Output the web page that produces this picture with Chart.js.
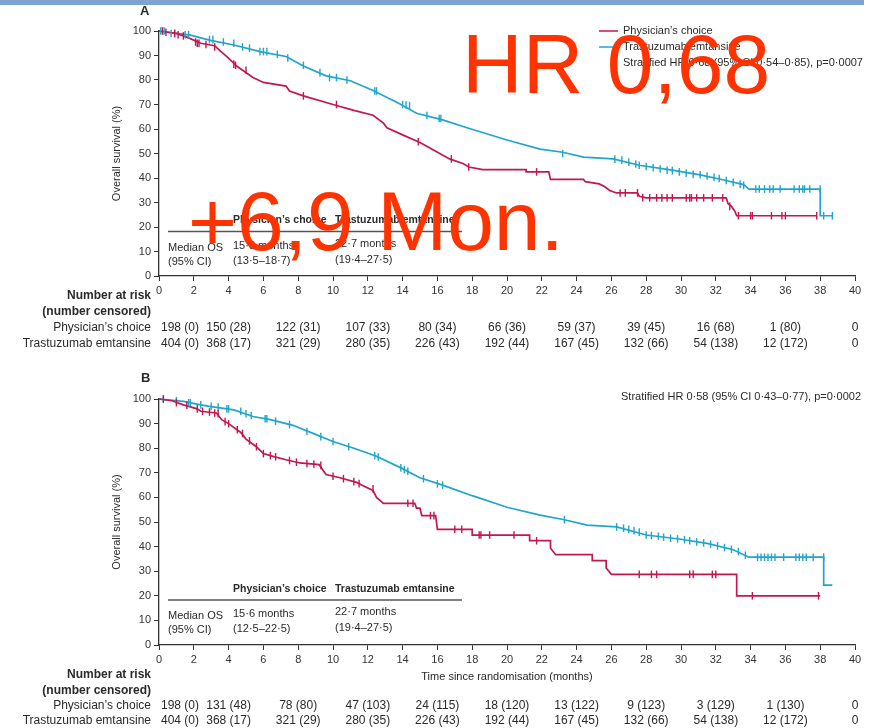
<!DOCTYPE html>
<html>
<head>
<meta charset="utf-8">
<script src="https://cdn.jsdelivr.net/npm/chart.js@4.4.1/dist/chart.umd.min.js"></script>
<style>
  body { margin: 0; background: #fff; width: 872px; height: 728px; overflow: hidden; position: relative; }
  #bar { position: absolute; left: 0; top: 0; width: 864px; height: 5px; background: #80a3cd; z-index: 2; }
  #cA { position: absolute; left: 0; top: 0; }
  #cB { position: absolute; left: 0; top: 365px; }
</style>
</head>
<body>
<div id="bar"></div>
<canvas id="cA" width="872" height="362"></canvas>
<canvas id="cB" width="872" height="363"></canvas>
<script>
// --- data (months, % surviving) ---
const redA = [[0,100],[0.5,99.5],[1.0,99],[1.6,97.5],[2.4,95],[3.2,94],[3.5,92],[3.9,89.5],[4.5,85.5],[5.4,81],[6.0,79],[7.3,77.5],[7.5,75.5],[8.3,73.5],[10.0,70],[11.2,67.6],[12.3,65.6],[12.9,62.4],[13.1,60.5],[14.0,57.6],[15.0,54.5],[15.8,51.3],[16.7,47.8],[17.5,45.8],[17.8,44.5],[18.6,43.4],[21.1,43.4],[21.1,42.5],[22.4,42.5],[22.5,39.4],[24.4,39.4],[24.5,38.5],[25.3,37.6],[25.6,36.5],[25.9,34.9],[26.3,33.9],[27.5,33.9],[27.6,32.5],[28.0,31.9],[32.6,31.9],[32.7,29.6],[32.9,28.4],[33.1,26.4],[33.2,24.6],[37.8,24.6]];
const blueA = [[0,100],[1.0,99],[1.8,98.3],[2.9,96.3],[4.3,94.3],[5.8,91.6],[7.3,89.6],[8.3,85.7],[9.6,81.7],[11.0,79.7],[12.3,75.7],[13.8,70.4],[14.8,66.4],[16.3,63.7],[17.7,60.5],[20.0,55.5],[21.9,51.8],[23.2,50.5],[24.4,48.5],[26.1,47.8],[27.6,45.2],[29.5,43.2],[31.1,41.3],[32.4,39.3],[33.6,37.3],[33.9,35.5],[38.0,35.5],[38.0,24.6],[38.7,24.6]];
const censRedA = [[0.2,100],[0.4,99.5],[0.9,99],[1.1,98.5],[1.4,98],[2.1,95.5],[2.2,95],[2.3,95],[2.7,94.5],[3.2,93.5],[4.3,86.5],[4.4,86],[5.0,84],[8.3,73.5],[10.2,70],[14.9,54.8],[16.8,47.8],[17.8,44.5],[21.7,42.5],[26.5,33.9],[26.8,33.9],[27.5,33.9],[27.8,32],[28.2,31.9],[28.6,31.9],[28.9,31.9],[29.2,31.9],[29.5,31.9],[30.3,31.9],[30.5,31.9],[30.6,31.9],[30.9,31.9],[31.3,31.9],[31.8,31.9],[32.4,31.9],[32.8,28.4],[33.3,24.6],[34.0,24.6],[34.1,24.6],[35.2,24.6],[35.8,24.6],[36.0,24.6],[37.8,24.6]];
const censBlueA = [[0.1,100],[0.3,100],[0.7,99],[0.9,99],[1.5,98.5],[1.7,98.5],[2.9,96.5],[3.1,96.5],[3.7,95.5],[4.3,95],[4.8,93.5],[5.2,93],[5.8,91.6],[6.0,91.6],[6.2,91.6],[6.8,90.5],[7.4,89],[8.3,86],[9.25,83],[9.8,81],[10.2,81],[10.8,80],[12.4,75.5],[12.5,75.5],[14.0,70],[14.2,69.8],[14.4,69.5],[15.4,65.5],[16.1,64.3],[16.2,64.3],[23.2,50],[26.2,47.7],[26.6,47.3],[27.0,46.5],[27.4,45.7],[27.6,45.2],[28.0,44.7],[28.4,44.2],[28.8,43.7],[29.2,43.2],[29.5,43],[29.9,42.5],[30.3,42],[30.7,41.5],[31.1,41.3],[31.5,40.8],[31.9,40.3],[32.2,39.8],[32.6,39],[33.0,38.2],[33.4,37.5],[33.6,37],[34.3,35.5],[34.5,35.5],[34.8,35.5],[35.1,35.5],[35.3,35.5],[35.7,35.5],[36.5,35.5],[36.8,35.5],[37.0,35.5],[37.1,35.5],[37.4,35.5],[38.0,35.5],[38.2,24.6],[38.7,24.6]];

const redB = [[0,100],[0.75,99.3],[1.4,97.6],[2.2,96],[2.4,95],[3.3,94.3],[3.6,91.6],[4.0,90],[4.7,86.4],[5.0,83.7],[5.6,80.6],[6.0,77.8],[6.6,76.6],[7.3,75.3],[8.1,74],[9.2,73.3],[9.6,69.3],[10.4,68],[11.4,66],[11.7,64.8],[12.3,62.8],[12.5,60],[12.9,57.6],[14.7,57.6],[14.8,55.6],[15.0,55.6],[15.1,52.6],[15.9,52.6],[16.0,47],[18.0,47],[18.0,44.7],[21.3,44.7],[21.3,42.4],[22.5,42.4],[22.5,39.3],[22.8,36.7],[24.9,36.7],[24.9,34.3],[25.7,34.3],[25.7,31.3],[26.0,28.7],[33.2,28.7],[33.2,20],[38.0,20]];
const blueB = [[0,100],[1.4,99],[2.4,97.6],[2.9,97],[4.3,95.6],[5.4,92.9],[6.4,91.6],[7.7,89.3],[9.1,85.3],[10.0,82.7],[11.2,80],[12.5,76.7],[13.9,72],[15.0,68],[16.3,65],[18.0,60.7],[20.0,56],[21.9,52.8],[23.3,50.9],[24.6,48.7],[26.3,48],[28.0,44.7],[29.9,43.1],[31.5,41.3],[33.0,38.7],[33.9,35.7],[38.2,35.7],[38.2,24.3],[38.7,24.3]];
const censRedB = [[0.25,100],[1.0,98.5],[1.6,97.5],[2.2,96],[2.5,95],[2.9,94.7],[3.2,94.3],[3.4,94],[3.8,90.8],[4.0,90],[4.5,87.5],[4.8,86],[5.2,83],[5.6,80.6],[6.0,77.8],[6.4,77],[6.7,76.5],[7.5,75],[7.9,74.3],[8.5,73.8],[8.9,73.5],[9.3,73],[10.0,68.6],[10.6,67.6],[11.2,66.4],[11.5,65.6],[12.3,63.5],[14.3,57.6],[14.6,57.6],[15.6,52.6],[15.8,52.6],[17.0,47],[17.4,47],[18.4,44.7],[18.5,44.7],[19.0,44.7],[20.4,44.7],[21.7,42.4],[27.6,28.7],[28.3,28.7],[28.6,28.7],[30.5,28.7],[30.7,28.7],[31.8,28.7],[32.0,28.7],[34.1,20],[37.9,20]];
const censBlueB = [[0.25,100],[1.0,99.3],[1.7,98.5],[1.8,98.5],[2.4,97.6],[3.0,97],[3.4,96.7],[3.9,96],[4.0,96],[4.7,95],[5.0,94],[5.3,93.3],[6.1,92],[6.2,92],[6.7,91],[7.5,89.6],[8.5,86.8],[9.3,84.7],[10.0,82.7],[10.9,80.6],[12.4,77],[12.6,76.4],[13.9,72],[14.1,71.3],[14.3,70.6],[15.2,67.6],[16.0,65.5],[16.3,65],[23.3,50.9],[26.3,48],[26.7,47.5],[27.0,47],[27.3,46.5],[27.6,45.9],[28.0,44.7],[28.3,44.5],[28.7,44.2],[29.0,43.8],[29.4,43.4],[29.8,43.1],[30.2,42.8],[30.5,42.4],[30.9,41.9],[31.3,41.5],[31.7,41],[32.1,40.3],[32.5,39.6],[32.9,38.9],[33.3,38],[33.7,36.5],[34.4,35.7],[34.6,35.7],[34.8,35.7],[35.0,35.7],[35.2,35.7],[35.4,35.7],[35.9,35.7],[36.6,35.7],[36.8,35.7],[37.0,35.7],[37.2,35.7],[37.6,35.7],[38.2,35.7]];

// number at risk (number censored)
const riskTimes = [0, 4, 8, 12, 16, 20, 24, 28, 32, 36, 40];
const riskA_pc = ["198 (0)", "150 (28)", "122 (31)", "107 (33)", "80 (34)", "66 (36)", "59 (37)", "39 (45)", "16 (68)", "1 (80)", "0"];
const riskA_tdm1 = ["404 (0)", "368 (17)", "321 (29)", "280 (35)", "226 (43)", "192 (44)", "167 (45)", "132 (66)", "54 (138)", "12 (172)", "0"];
const riskB_pc = ["198 (0)", "131 (48)", "78 (80)", "47 (103)", "24 (115)", "18 (120)", "13 (122)", "9 (123)", "3 (129)", "1 (130)", "0"];
const riskB_tdm1 = ["404 (0)", "368 (17)", "321 (29)", "280 (35)", "226 (43)", "192 (44)", "167 (45)", "132 (66)", "54 (138)", "12 (172)", "0"];

const medianA = ["15·8 months", "(13·5–18·7)", "22·7 months", "(19·4–27·5)"];
const medianB = ["15·6 months", "(12·5–22·5)", "22·7 months", "(19·4–27·5)"];

const FONT = '"Liberation Sans", Arial, sans-serif';
const RED = '#c4174d';
const BLUE = '#20a5cc';
const INK = '#2a2a2a';

function txt(ctx, s, x, y, size, opt) {
  opt = opt || {};
  ctx.save();
  ctx.font = (opt.bold ? 'bold ' : '') + size + 'px ' + FONT;
  ctx.fillStyle = opt.color || INK;
  ctx.textAlign = opt.align || 'left';
  ctx.textBaseline = opt.base || 'middle';
  ctx.fillText(s, x, y);
  ctx.restore();
}

function pts(arr) {
  return arr.map(p => ({ x: p[0], y: p[1] }));
}

function curve(arr, color) {
  return { data: pts(arr), showLine: true, borderColor: color, borderWidth: 1.7,
           pointRadius: 0, tension: 0, clip: false, order: 2 };
}

function censor(arr, color) {
  return { data: pts(arr), showLine: false, pointStyle: 'line', pointRotation: 90,
           pointRadius: 3.8, pointBorderColor: color, pointBorderWidth: 1.4,
           pointBackgroundColor: color, clip: false, order: 1 };
}

function options(topPad, xHeight) {
  const tickFont = { family: FONT, size: 11 };
  return {
    responsive: false,
    animation: false,
    devicePixelRatio: 1,
    events: [],
    layout: { padding: { top: topPad, right: 17, left: 0, bottom: 0 } },
    plugins: { legend: { display: false }, tooltip: { enabled: false } },
    scales: {
      x: {
        type: 'linear', min: 0, max: 40,
        ticks: { stepSize: 2, font: tickFont, color: '#333', padding: 3, maxRotation: 0, autoSkip: false },
        grid: { drawOnChartArea: false, drawTicks: true, tickLength: 5, color: '#333', lineWidth: 1 },
        border: { display: true, color: '#333', width: 1.3 },
        afterFit: s => { s.height = xHeight; }
      },
      y: {
        min: 0, max: 100,
        ticks: { stepSize: 10, font: tickFont, color: '#333', padding: 3 },
        grid: { drawOnChartArea: false, drawTicks: true, tickLength: 5, color: '#333', lineWidth: 1 },
        border: { display: true, color: '#333', width: 1.3 },
        afterFit: s => { s.width = 159; }
      }
    }
  };
}

function yTitle(chart) {
  const ctx = chart.ctx, a = chart.chartArea;
  ctx.save();
  ctx.translate(117, (a.top + a.bottom) / 2);
  ctx.rotate(-Math.PI / 2);
  txt(ctx, 'Overall survival (%)', 0, 0, 11, { align: 'center' });
  ctx.restore();
}

function medianTable(ctx, yLine, vals) {
  ctx.save();
  ctx.strokeStyle = '#555';
  ctx.lineWidth = 1.5;
  ctx.beginPath();
  ctx.moveTo(168, yLine);
  ctx.lineTo(462, yLine);
  ctx.stroke();
  ctx.restore();
  txt(ctx, 'Physician’s choice', 233, yLine - 11, 10.5, { bold: true });
  txt(ctx, 'Trastuzumab emtansine', 335, yLine - 11, 10.5, { bold: true });
  txt(ctx, 'Median OS', 168, yLine + 16, 11);
  txt(ctx, '(95% CI)', 168, yLine + 30, 11);
  txt(ctx, vals[0], 233, yLine + 14, 11);
  txt(ctx, vals[1], 233, yLine + 29, 11);
  txt(ctx, vals[2], 335, yLine + 12, 11);
  txt(ctx, vals[3], 335, yLine + 28, 11);
}

function riskTable(chart, rowsPc, rowsT, yHead, yRows) {
  const ctx = chart.ctx, xs = chart.scales.x;
  txt(ctx, 'Number at risk', 151, yHead[0], 12, { bold: true, align: 'right' });
  txt(ctx, '(number censored)', 151, yHead[1], 12, { bold: true, align: 'right' });
  [['Physician’s choice', rowsPc], ['Trastuzumab emtansine', rowsT]].forEach((r, k) => {
    txt(ctx, r[0], 151, yRows[k], 12, { align: 'right' });
    r[1].forEach((v, i) => {
      const x = xs.getPixelForValue(riskTimes[i]);
      if (i === 0) txt(ctx, v, x + 2, yRows[k], 12);
      else txt(ctx, v, x, yRows[k], 12, { align: 'center' });
    });
  });
}

const textA = {
  id: 'textA',
  afterDraw(chart) {
    const ctx = chart.ctx;
    txt(ctx, 'A', 140, 11, 13, { bold: true });
    yTitle(chart);
    // legend
    ctx.save();
    ctx.lineWidth = 1.5;
    ctx.strokeStyle = RED;
    ctx.beginPath(); ctx.moveTo(599, 31); ctx.lineTo(618, 31); ctx.stroke();
    ctx.strokeStyle = BLUE;
    ctx.beginPath(); ctx.moveTo(599, 47); ctx.lineTo(618, 47); ctx.stroke();
    ctx.restore();
    txt(ctx, 'Physician’s choice', 623, 31, 11);
    txt(ctx, 'Trastuzumab emtansine', 623, 47, 11);
    txt(ctx, 'Stratified HR 0·68 (95% CI 0·54–0·85), p=0·0007', 623, 63, 11);
    medianTable(ctx, 231.5, medianA);
    riskTable(chart, riskA_pc, riskA_tdm1, [296, 312], [328, 344]);
    // overlay
    txt(ctx, 'HR 0,68', 462, 93, 84, { color: '#ff3300', base: 'alphabetic' });
    txt(ctx, '+6,9 Mon.', 188, 250, 84, { color: '#ff3300', base: 'alphabetic' });
  }
};

const textB = {
  id: 'textB',
  afterDraw(chart) {
    const ctx = chart.ctx;
    txt(ctx, 'B', 141, 13, 13, { bold: true });
    yTitle(chart);
    txt(ctx, 'Stratified HR 0·58 (95% CI 0·43–0·77), p=0·0002', 861, 32, 11, { align: 'right' });
    medianTable(ctx, 235, medianB);
    txt(ctx, 'Time since randomisation (months)', 507, 312, 11, { align: 'center' });
    riskTable(chart, riskB_pc, riskB_tdm1, [310, 326], [341, 356]);
  }
};

new Chart(document.getElementById('cA'), {
  type: 'scatter',
  data: { datasets: [curve(redA, RED), curve(blueA, BLUE), censor(censRedA, RED), censor(censBlueA, BLUE)] },
  options: options(31, 86),
  plugins: [textA]
});

new Chart(document.getElementById('cB'), {
  type: 'scatter',
  data: { datasets: [curve(redB, RED), curve(blueB, BLUE), censor(censRedB, RED), censor(censBlueB, BLUE)] },
  options: options(34, 83),
  plugins: [textB]
});
</script>
</body>
</html>
